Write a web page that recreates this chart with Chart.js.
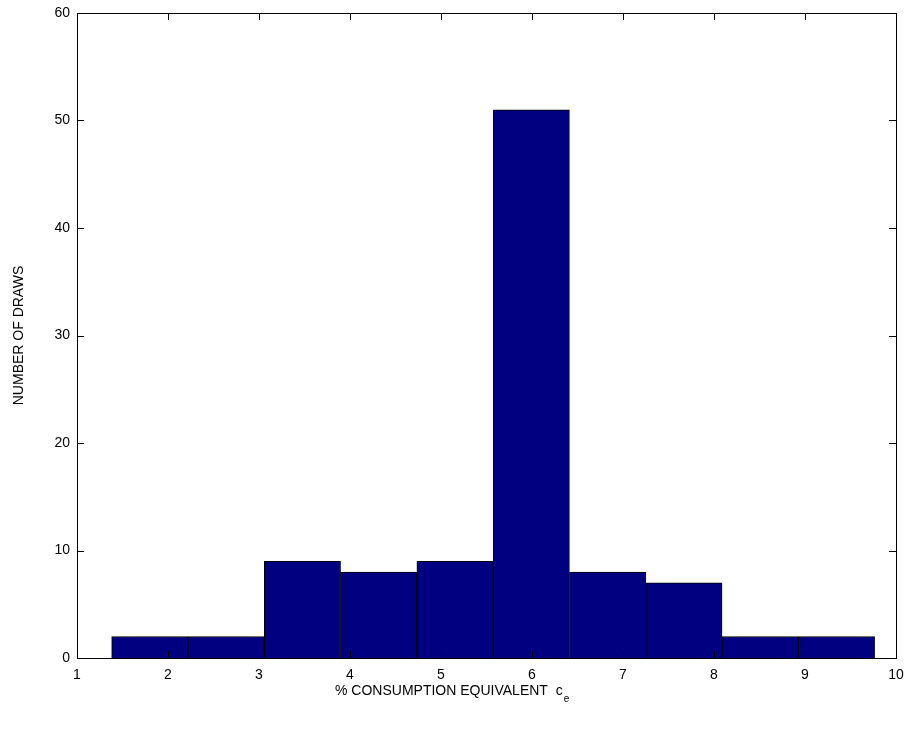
<!DOCTYPE html>
<html>
<head>
<meta charset="utf-8">
<script src="https://cdn.jsdelivr.net/npm/chart.js@4.4.1/dist/chart.umd.min.js"></script>
<style>
  html, body { margin: 0; padding: 0; background: #fff; }
  #wrap { width: 911px; height: 732px; }
</style>
</head>
<body>
<div id="wrap"><canvas id="hist"></canvas></div>
<script>
const binCenters = [1.800, 2.638, 3.477, 4.315, 5.154, 5.992, 6.831, 7.669, 8.508, 9.346];
const binCounts = [2, 2, 9, 8, 9, 51, 8, 7, 2, 2];
const xTicks = [1, 2, 3, 4, 5, 6, 7, 8, 9, 10];
const yTicks = [0, 10, 20, 30, 40, 50, 60];

const barColor = "#000080";
const fontFamily = "Liberation Sans, Arial, sans-serif";

// box round the axes and inward ticks, matlab style
const matlabAxes = {
    id: 'matlabAxes',
    afterDatasetsDraw(chart) {
        const ctx = chart.ctx;
        const area = chart.chartArea;
        const xs = chart.scales.x;
        const ys = chart.scales.y;
        const len = 7;
        ctx.save();
        ctx.strokeStyle = '#000';
        ctx.lineWidth = 1;
        ctx.beginPath();
        xTicks.forEach(function(v) {
            const px = Math.round(xs.getPixelForValue(v)) + 0.5;
            ctx.moveTo(px, area.bottom);
            ctx.lineTo(px, area.bottom - len);
            ctx.moveTo(px, area.top);
            ctx.lineTo(px, area.top + len);
        });
        yTicks.forEach(function(v) {
            const py = Math.round(ys.getPixelForValue(v)) + 0.5;
            ctx.moveTo(area.left, py);
            ctx.lineTo(area.left + len, py);
            ctx.moveTo(area.right, py);
            ctx.lineTo(area.right - len, py);
        });
        ctx.stroke();
        ctx.strokeRect(Math.round(area.left) + 0.5, Math.round(area.top) + 0.5,
            Math.round(area.right - area.left), Math.round(area.bottom - area.top));

        // x label with subscript
        ctx.fillStyle = '#000';
        ctx.textBaseline = 'middle';
        ctx.font = '14px ' + fontFamily;
        const main = '% CONSUMPTION EQUIVALENT  c';
        const w = ctx.measureText(main).width;
        const x0 = 335;
        ctx.textAlign = 'left';
        ctx.fillText(main, x0, 691);
        ctx.font = '10px ' + fontFamily;
        ctx.fillText('e', x0 + w + 1, 699);
        ctx.restore();
    }
};

new Chart(document.getElementById('hist'), {
    type: 'bar',
    data: {
        datasets: [{
            data: binCenters.map(function(c, i) { return { x: c, y: binCounts[i] }; }),
            backgroundColor: barColor,
            borderColor: '#000',
            borderWidth: 1,
            barPercentage: 1,
            categoryPercentage: 1,
        }]
    },
    options: {
        responsive: true,
        maintainAspectRatio: false,
        animation: false,
        layout: { padding: { top: 13, right: 15, left: 0, bottom: 0 } },
        plugins: {
            legend: { display: false },
            tooltip: { enabled: false }
        },
        scales: {
            x: {
                type: 'linear',
                offset: false,
                min: 1,
                max: 10,
                afterBuildTicks: function(scale) {
                    scale.ticks = xTicks.map(function(v) { return { value: v }; });
                },
                afterFit: function(scale) {
                    scale.height = 74;
                    scale.paddingLeft = 0;
                    scale.paddingRight = 0;
                },
                grid: { display: false, drawTicks: false, offset: false },
                border: { display: false },
                ticks: {
                    color: '#000',
                    padding: 9,
                    maxRotation: 0,
                    font: { family: fontFamily, size: 14 }
                }
            },
            y: {
                min: 0,
                max: 60,
                afterBuildTicks: function(scale) {
                    scale.ticks = yTicks.map(function(v) { return { value: v }; });
                },
                afterFit: function(scale) {
                    scale.width = 77;
                    scale.paddingTop = 0;
                    scale.paddingBottom = 0;
                },
                grid: { display: false, drawTicks: false },
                border: { display: false },
                title: {
                    display: true,
                    text: 'NUMBER OF DRAWS',
                    color: '#000',
                    padding: { top: 11, bottom: 0 },
                    font: { family: fontFamily, size: 14 }
                },
                ticks: {
                    color: '#000',
                    padding: 7,
                    font: { family: fontFamily, size: 14 }
                }
            }
        }
    },
    plugins: [matlabAxes]
});
</script>
</body>
</html>
